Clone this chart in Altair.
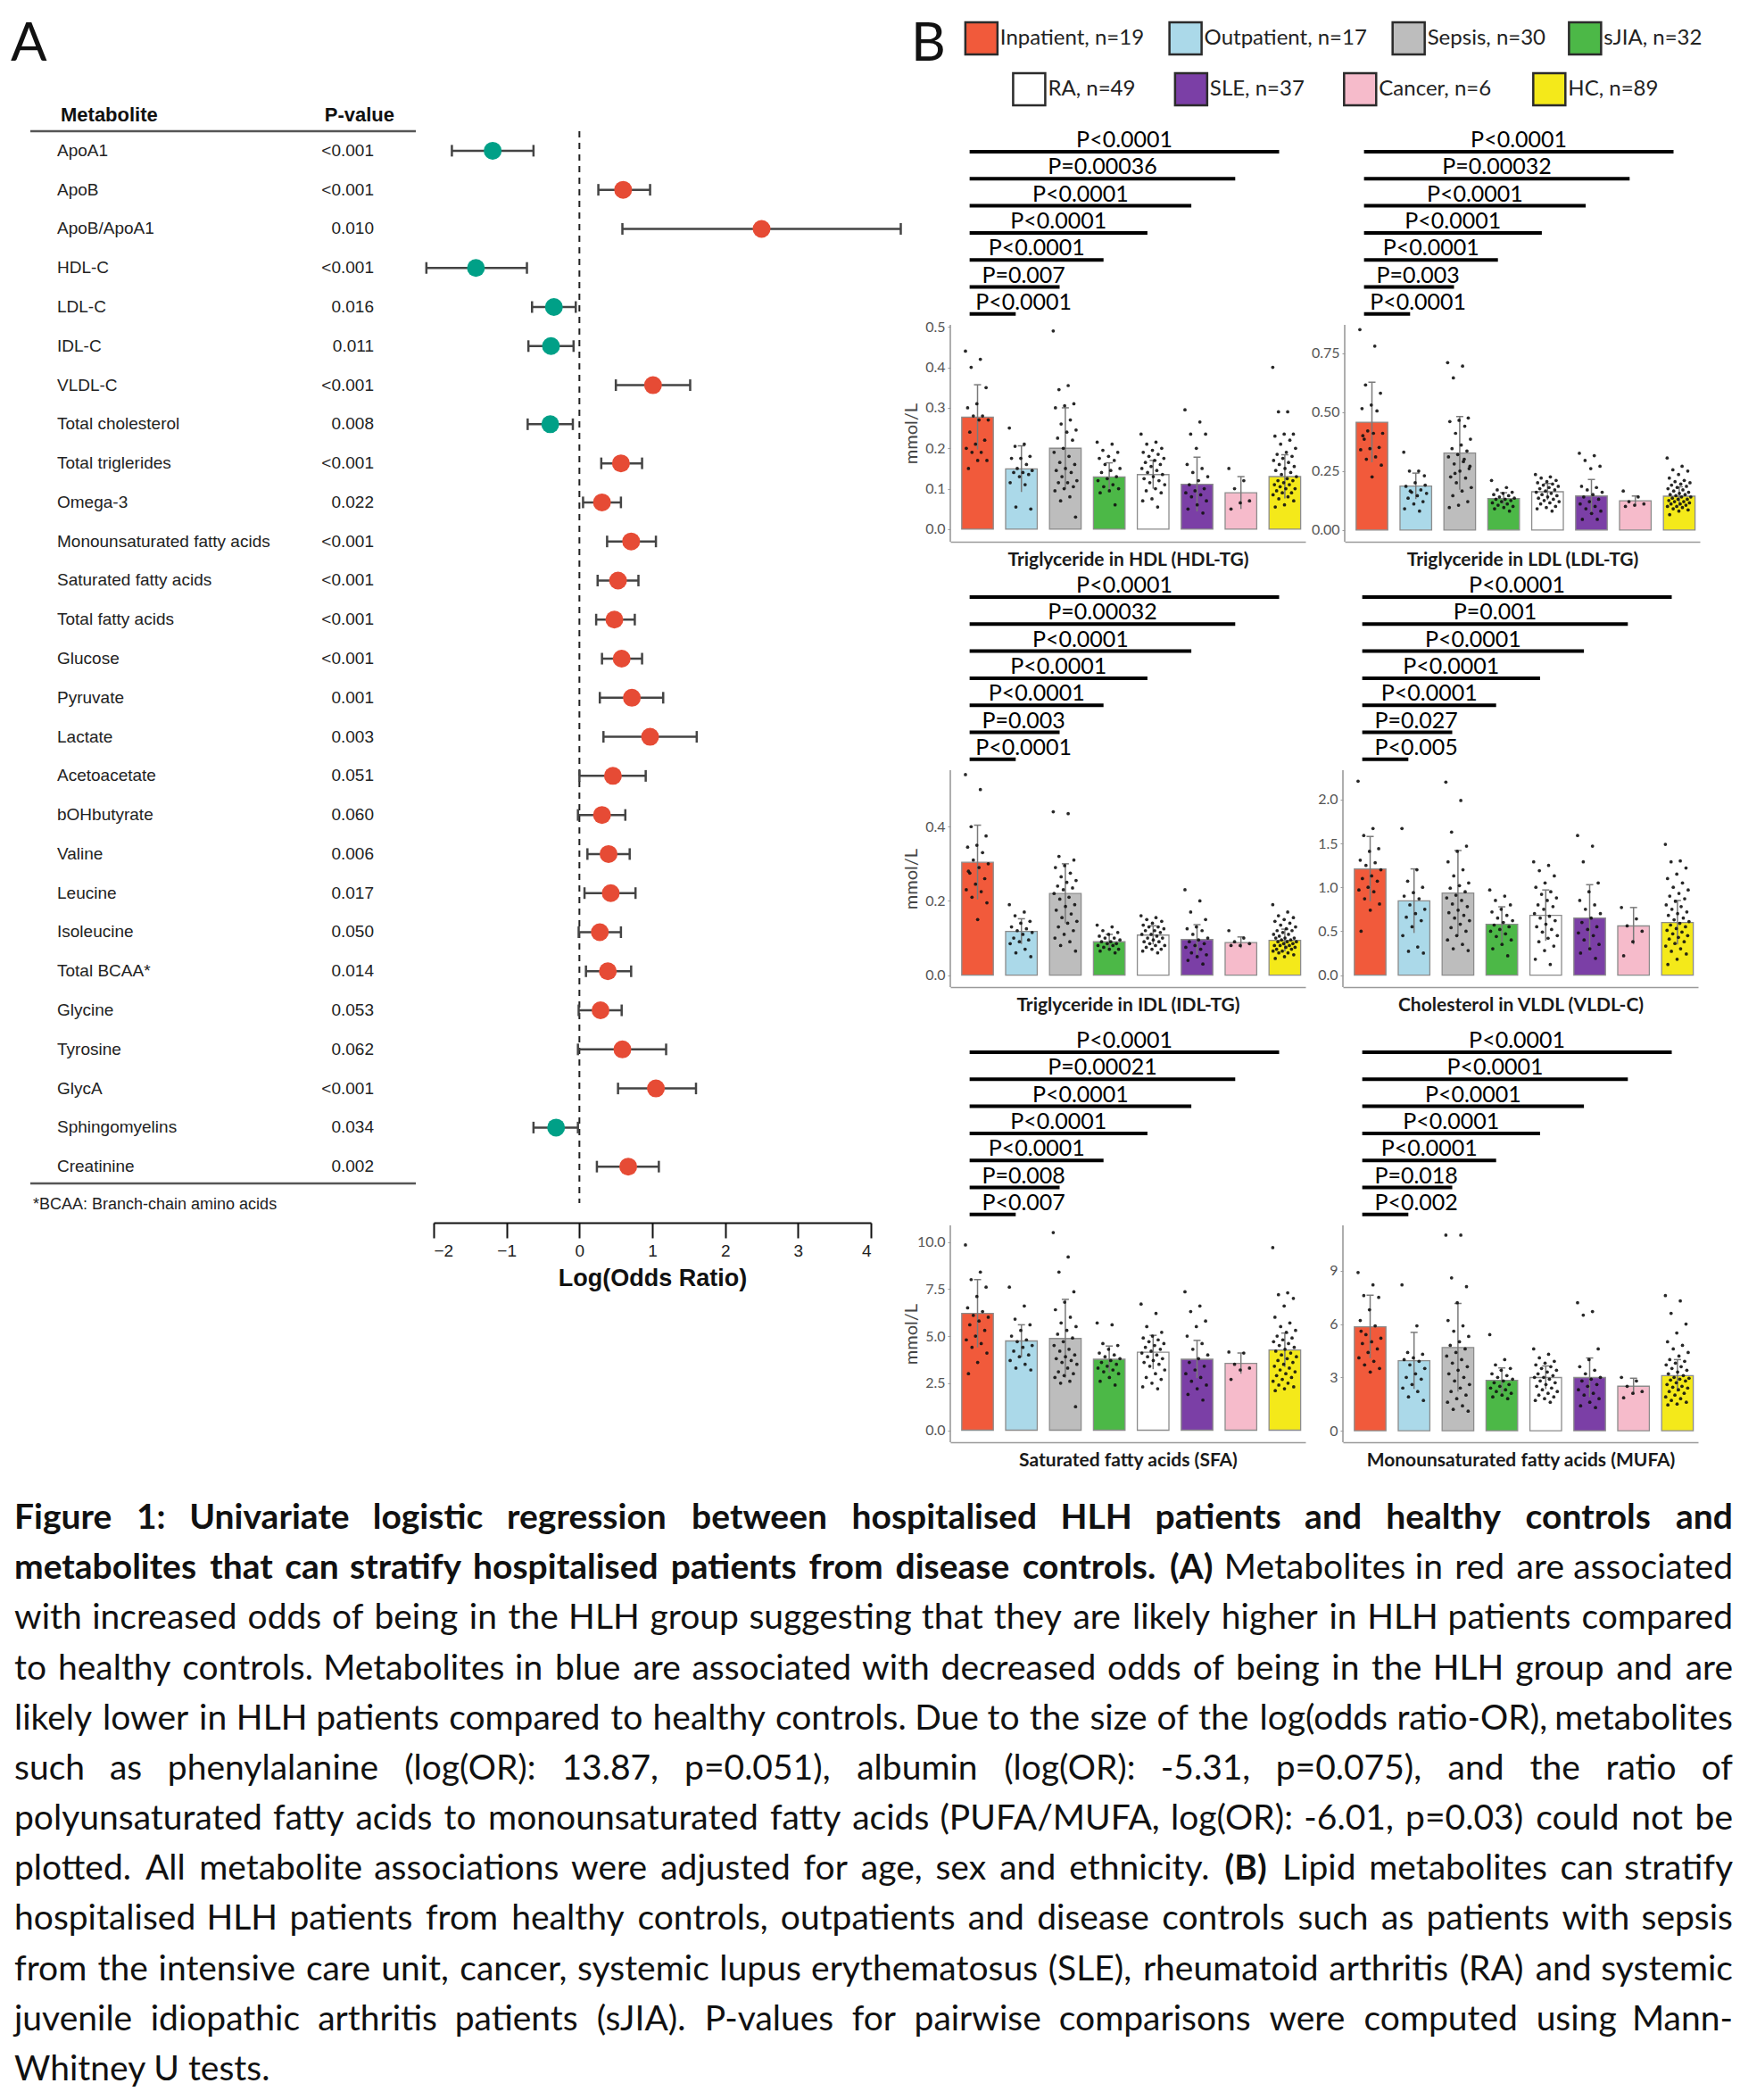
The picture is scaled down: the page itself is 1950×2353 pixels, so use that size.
import altair as alt
import pandas as pd

FONT_A = "Liberation Sans"
FONT_B = "Lato"

# ---------------- Panel A: forest plot ----------------
METABOLITES = ["ApoA1", "ApoB", "ApoB/ApoA1", "HDL-C", "LDL-C", "IDL-C", "VLDL-C",
               "Total cholesterol", "Total triglerides", "Omega-3",
               "Monounsaturated fatty acids", "Saturated fatty acids", "Total fatty acids",
               "Glucose", "Pyruvate", "Lactate", "Acetoacetate", "bOHbutyrate", "Valine",
               "Leucine", "Isoleucine", "Total BCAA*", "Glycine", "Tyrosine", "GlycA",
               "Sphingomyelins", "Creatinine"]
P_VALUES = ["<0.001", "<0.001", "0.010", "<0.001", "0.016", "0.011", "<0.001", "0.008",
            "<0.001", "0.022", "<0.001", "<0.001", "<0.001", "<0.001", "0.001", "0.003",
            "0.051", "0.060", "0.006", "0.017", "0.050", "0.014", "0.053", "0.062",
            "<0.001", "0.034", "0.002"]
LOG_OR = [-1.19, 0.60, 2.50, -1.42, -0.35, -0.39, 1.01, -0.40, 0.57, 0.31, 0.71, 0.53, 0.48,
          0.58, 0.72, 0.97, 0.46, 0.31, 0.40, 0.43, 0.28, 0.39, 0.29, 0.59, 1.05, -0.32, 0.67]
CI_LOW = [-1.75, 0.26, 0.59, -2.10, -0.65, -0.70, 0.50, -0.71, 0.30, 0.05, 0.38, 0.25, 0.23,
          0.31, 0.28, 0.33, 0.00, -0.02, 0.11, 0.07, -0.01, 0.09, -0.01, -0.02, 0.53, -0.63, 0.24]
CI_HIGH = [-0.63, 0.97, 4.41, -0.72, -0.05, -0.08, 1.52, -0.09, 0.86, 0.57, 1.05, 0.81, 0.76,
           0.86, 1.15, 1.61, 0.91, 0.63, 0.69, 0.77, 0.57, 0.71, 0.58, 1.19, 1.60, -0.02, 1.09]
X_TICKS = [-2, -1, 0, 1, 2, 3, 4]
RED, TEAL = "#E64B35", "#00A087"

# ---------------- Panel B: group bar charts ----------------
GROUPS = ["Inpatient", "Outpatient", "Sepsis", "sJIA", "RA", "SLE", "Cancer", "HC"]
GROUP_N = [19, 17, 30, 32, 49, 37, 6, 89]
GROUP_COLORS = ["#F15A3B", "#ABD9E9", "#BDBDBD", "#4CB847", "#FFFFFF", "#7B3FA6", "#F6BBCB", "#F4E91A"]

PANELS = ["HDL_TG", "LDL_TG", "IDL_TG", "VLDL_C", "SFA", "MUFA"]
PANEL_TITLES = {
    "HDL_TG": "Triglyceride in HDL (HDL-TG)",
    "LDL_TG": "Triglyceride in LDL (LDL-TG)",
    "IDL_TG": "Triglyceride in IDL (IDL-TG)",
    "VLDL_C": "Cholesterol in VLDL (VLDL-C)",
    "SFA": "Saturated fatty acids (SFA)",
    "MUFA": "Monounsaturated fatty acids (MUFA)",
}
MEANS = {
    "HDL_TG": [0.277, 0.149, 0.20, 0.129, 0.135, 0.111, 0.09, 0.13],
    "LDL_TG": [0.457, 0.186, 0.326, 0.133, 0.162, 0.144, 0.124, 0.143],
    "IDL_TG": [0.304, 0.118, 0.22, 0.09, 0.108, 0.096, 0.088, 0.094],
    "VLDL_C": [1.21, 0.845, 0.935, 0.578, 0.68, 0.65, 0.56, 0.60],
    "SFA": [6.2, 4.74, 4.87, 3.77, 4.14, 3.77, 3.55, 4.26],
    "MUFA": [5.85, 3.94, 4.68, 2.83, 2.99, 2.99, 2.5, 3.1],
}
SDS = {
    "HDL_TG": [0.08, 0.057, 0.10, 0.035, 0.035, 0.067, 0.04, 0.054],
    "LDL_TG": [0.17, 0.055, 0.155, 0.025, 0.035, 0.07, 0.02, 0.04],
    "IDL_TG": [0.10, 0.034, 0.08, 0.02, 0.025, 0.04, 0.015, 0.03],
    "VLDL_C": [0.37, 0.365, 0.485, 0.2, 0.29, 0.38, 0.21, 0.25],
    "SFA": [1.8, 0.86, 2.08, 0.7, 0.9, 1.0, 0.55, 0.9],
    "MUFA": [1.77, 1.59, 2.48, 0.7, 0.65, 1.1, 0.45, 0.9],
}
Y_LIMITS = {
    "HDL_TG": (-0.031, 0.505), "LDL_TG": (-0.05, 0.87), "IDL_TG": (-0.032, 0.552),
    "VLDL_C": (-0.137, 2.335), "SFA": (-0.64, 10.88), "MUFA": (-0.65, 11.55),
}
Y_TICKS = {
    "HDL_TG": [0, 0.1, 0.2, 0.3, 0.4, 0.5], "LDL_TG": [0, 0.25, 0.5, 0.75],
    "IDL_TG": [0, 0.2, 0.4], "VLDL_C": [0, 0.5, 1.0, 1.5, 2.0],
    "SFA": [0, 2.5, 5.0, 7.5, 10.0], "MUFA": [0, 3, 6, 9],
}
Y_FORMATS = {"HDL_TG": ".1f", "LDL_TG": ".2f", "IDL_TG": ".1f", "VLDL_C": ".1f", "SFA": ".1f", "MUFA": "d"}
# comparisons Inpatient vs Outpatient, Sepsis, sJIA, RA, SLE, Cancer, HC
P_LABELS = {
    "HDL_TG": ["P<0.0001", "P=0.007", "P<0.0001", "P<0.0001", "P<0.0001", "P=0.00036", "P<0.0001"],
    "LDL_TG": ["P<0.0001", "P=0.003", "P<0.0001", "P<0.0001", "P<0.0001", "P=0.00032", "P<0.0001"],
    "IDL_TG": ["P<0.0001", "P=0.003", "P<0.0001", "P<0.0001", "P<0.0001", "P=0.00032", "P<0.0001"],
    "VLDL_C": ["P<0.005", "P=0.027", "P<0.0001", "P<0.0001", "P<0.0001", "P=0.001", "P<0.0001"],
    "SFA": ["P<0.007", "P=0.008", "P<0.0001", "P<0.0001", "P<0.0001", "P=0.00021", "P<0.0001"],
    "MUFA": ["P<0.002", "P=0.018", "P<0.0001", "P<0.0001", "P<0.0001", "P<0.0001", "P<0.0001"],
}
POINTS = {
    "HDL_TG": [
        [0.44, 0.42, 0.40, 0.35, 0.31, 0.30, 0.28, 0.28, 0.27, 0.27, 0.24, 0.22, 0.21, 0.20, 0.19, 0.19, 0.17, 0.17, 0.15],
        [0.25, 0.21, 0.205, 0.18, 0.175, 0.175, 0.16, 0.15, 0.145, 0.14, 0.14, 0.135, 0.13, 0.115, 0.11, 0.055, 0.05],
        [0.49, 0.355, 0.345, 0.31, 0.305, 0.30, 0.27, 0.26, 0.245, 0.24, 0.225, 0.22, 0.20, 0.19, 0.18, 0.165, 0.16, 0.15, 0.145, 0.14, 0.13, 0.12, 0.115, 0.115, 0.105, 0.10, 0.095, 0.08, 0.07, 0.03],
        [0.215, 0.21, 0.195, 0.19, 0.18, 0.175, 0.17, 0.16, 0.15, 0.145, 0.14, 0.13, 0.125, 0.12, 0.11, 0.105, 0.10, 0.095, 0.09, 0.06],
        [0.235, 0.215, 0.21, 0.20, 0.195, 0.19, 0.185, 0.18, 0.175, 0.17, 0.165, 0.16, 0.155, 0.15, 0.145, 0.14, 0.135, 0.13, 0.125, 0.12, 0.115, 0.11, 0.10, 0.095, 0.09, 0.075, 0.07, 0.055],
        [0.295, 0.265, 0.235, 0.235, 0.20, 0.16, 0.15, 0.14, 0.13, 0.12, 0.11, 0.10, 0.095, 0.09, 0.085, 0.08, 0.07, 0.06, 0.05, 0.04],
        [0.15, 0.12, 0.10, 0.07, 0.065, 0.05],
        [0.40, 0.29, 0.29, 0.235, 0.235, 0.23, 0.22, 0.21, 0.20, 0.19, 0.185, 0.18, 0.175, 0.17, 0.165, 0.16, 0.155, 0.15, 0.145, 0.14, 0.135, 0.13, 0.125, 0.12, 0.12, 0.115, 0.11, 0.11, 0.105, 0.10, 0.10, 0.095, 0.09, 0.09, 0.085, 0.08, 0.075, 0.07, 0.06, 0.055],
    ],
    "LDL_TG": [
        [0.85, 0.78, 0.615, 0.58, 0.53, 0.515, 0.505, 0.42, 0.41, 0.41, 0.385, 0.35, 0.345, 0.34, 0.31, 0.30, 0.275, 0.225, 0.40],
        [0.33, 0.25, 0.25, 0.23, 0.20, 0.185, 0.17, 0.16, 0.155, 0.145, 0.135, 0.12, 0.11, 0.09, 0.08, 0.165, 0.19],
        [0.71, 0.695, 0.645, 0.475, 0.465, 0.46, 0.44, 0.41, 0.385, 0.36, 0.345, 0.335, 0.32, 0.31, 0.29, 0.28, 0.26, 0.25, 0.225, 0.22, 0.20, 0.18, 0.165, 0.145, 0.12, 0.105, 0.095, 0.30, 0.24, 0.27],
        [0.21, 0.18, 0.17, 0.16, 0.155, 0.15, 0.145, 0.14, 0.135, 0.13, 0.13, 0.125, 0.12, 0.115, 0.11, 0.105, 0.10, 0.095, 0.09, 0.08],
        [0.235, 0.225, 0.22, 0.21, 0.205, 0.20, 0.195, 0.19, 0.185, 0.18, 0.175, 0.17, 0.165, 0.16, 0.155, 0.15, 0.145, 0.14, 0.135, 0.13, 0.125, 0.12, 0.115, 0.11, 0.10, 0.095, 0.09, 0.08],
        [0.325, 0.315, 0.295, 0.27, 0.26, 0.185, 0.18, 0.17, 0.16, 0.15, 0.14, 0.13, 0.12, 0.11, 0.10, 0.09, 0.08, 0.07, 0.045, 0.045],
        [0.165, 0.14, 0.12, 0.11, 0.105, 0.10],
        [0.305, 0.27, 0.255, 0.25, 0.235, 0.22, 0.21, 0.205, 0.20, 0.195, 0.19, 0.185, 0.18, 0.175, 0.17, 0.165, 0.16, 0.155, 0.15, 0.15, 0.145, 0.14, 0.14, 0.135, 0.13, 0.13, 0.125, 0.12, 0.12, 0.115, 0.11, 0.11, 0.105, 0.10, 0.10, 0.095, 0.09, 0.085, 0.08, 0.065],
    ],
    "IDL_TG": [
        [0.54, 0.50, 0.40, 0.375, 0.35, 0.345, 0.33, 0.31, 0.30, 0.29, 0.275, 0.26, 0.245, 0.23, 0.225, 0.21, 0.195, 0.15, 0.28],
        [0.19, 0.17, 0.16, 0.145, 0.14, 0.13, 0.125, 0.12, 0.115, 0.11, 0.10, 0.095, 0.09, 0.085, 0.07, 0.06, 0.05],
        [0.44, 0.435, 0.32, 0.31, 0.295, 0.29, 0.275, 0.265, 0.255, 0.25, 0.24, 0.235, 0.23, 0.22, 0.21, 0.205, 0.19, 0.185, 0.175, 0.165, 0.155, 0.145, 0.14, 0.13, 0.12, 0.11, 0.10, 0.09, 0.08, 0.065],
        [0.135, 0.13, 0.12, 0.115, 0.11, 0.105, 0.10, 0.10, 0.095, 0.09, 0.09, 0.085, 0.085, 0.08, 0.08, 0.075, 0.07, 0.07, 0.065, 0.06],
        [0.16, 0.155, 0.15, 0.145, 0.14, 0.135, 0.13, 0.13, 0.125, 0.12, 0.12, 0.115, 0.11, 0.11, 0.105, 0.10, 0.10, 0.095, 0.09, 0.09, 0.085, 0.08, 0.08, 0.075, 0.07, 0.07, 0.065, 0.06],
        [0.23, 0.20, 0.17, 0.15, 0.13, 0.125, 0.12, 0.11, 0.10, 0.095, 0.09, 0.085, 0.08, 0.075, 0.07, 0.06, 0.055, 0.05, 0.04, 0.03],
        [0.12, 0.10, 0.09, 0.085, 0.08, 0.08],
        [0.19, 0.17, 0.16, 0.155, 0.15, 0.145, 0.14, 0.135, 0.13, 0.125, 0.12, 0.12, 0.115, 0.11, 0.11, 0.105, 0.10, 0.10, 0.10, 0.095, 0.095, 0.09, 0.09, 0.09, 0.085, 0.085, 0.08, 0.08, 0.08, 0.075, 0.075, 0.07, 0.07, 0.065, 0.065, 0.06, 0.06, 0.055, 0.05, 0.045],
    ],
    "VLDL_C": [
        [2.21, 1.67, 1.59, 1.44, 1.41, 1.31, 1.28, 1.25, 1.20, 1.13, 1.10, 1.07, 1.0, 0.97, 0.95, 0.87, 0.81, 0.74, 0.50],
        [1.67, 1.20, 1.07, 1.00, 0.94, 0.90, 0.87, 0.80, 0.75, 0.70, 0.66, 0.62, 0.55, 0.45, 0.32, 0.27, 0.25],
        [2.20, 1.99, 1.63, 1.47, 1.41, 1.29, 1.20, 1.13, 1.05, 1.02, 0.99, 0.95, 0.91, 0.88, 0.85, 0.81, 0.78, 0.74, 0.71, 0.68, 0.65, 0.62, 0.58, 0.54, 0.50, 0.45, 0.40, 0.35, 0.30, 0.28],
        [0.97, 0.90, 0.85, 0.80, 0.75, 0.72, 0.68, 0.65, 0.62, 0.60, 0.57, 0.55, 0.52, 0.50, 0.47, 0.44, 0.40, 0.35, 0.30, 0.22],
        [1.29, 1.25, 1.19, 1.13, 1.05, 1.00, 0.95, 0.92, 0.88, 0.85, 0.80, 0.78, 0.75, 0.70, 0.67, 0.65, 0.62, 0.58, 0.55, 0.52, 0.49, 0.45, 0.42, 0.38, 0.33, 0.28, 0.18, 0.12],
        [1.59, 1.47, 1.29, 1.05, 0.95, 0.85, 0.80, 0.75, 0.70, 0.65, 0.60, 0.55, 0.52, 0.48, 0.45, 0.40, 0.35, 0.30, 0.25, 0.19],
        [0.77, 0.64, 0.56, 0.50, 0.38, 0.22],
        [1.49, 1.30, 1.29, 1.22, 1.15, 1.10, 1.05, 1.00, 0.97, 0.93, 0.90, 0.87, 0.84, 0.80, 0.78, 0.75, 0.72, 0.70, 0.68, 0.65, 0.63, 0.61, 0.59, 0.57, 0.55, 0.53, 0.51, 0.49, 0.47, 0.45, 0.43, 0.41, 0.38, 0.36, 0.33, 0.30, 0.27, 0.24, 0.18, 0.12],
    ],
    "SFA": [
        [9.84, 8.4, 8.0, 7.6, 7.1, 6.5, 6.3, 6.1, 6.0, 5.8, 5.6, 5.3, 5.0, 4.8, 4.6, 4.4, 4.1, 3.6, 3.0],
        [7.6, 6.6, 5.9, 5.6, 5.3, 5.0, 4.8, 4.7, 4.5, 4.4, 4.2, 4.0, 3.9, 3.7, 3.5, 3.3, 3.2],
        [10.5, 9.2, 8.4, 7.35, 6.8, 6.4, 6.0, 5.7, 5.5, 5.3, 5.1, 4.9, 4.7, 4.5, 4.3, 4.2, 4.0, 3.9, 3.8, 3.7, 3.6, 3.5, 3.3, 3.1, 3.0, 2.9, 2.8, 2.6, 2.5, 1.25],
        [5.7, 5.6, 4.6, 4.5, 4.3, 4.1, 4.0, 3.9, 3.8, 3.7, 3.6, 3.5, 3.4, 3.3, 3.2, 3.1, 3.0, 2.8, 2.6, 2.4],
        [6.7, 6.2, 5.5, 5.2, 5.0, 4.9, 4.8, 4.7, 4.6, 4.5, 4.4, 4.3, 4.2, 4.1, 4.0, 3.9, 3.8, 3.7, 3.6, 3.5, 3.4, 3.2, 3.0, 2.8, 2.7, 2.5, 2.3, 2.2],
        [7.35, 6.6, 6.3, 5.8, 5.5, 5.0, 4.6, 4.3, 4.0, 3.8, 3.6, 3.4, 3.2, 3.0, 2.8, 2.6, 2.4, 2.2, 1.9, 1.6],
        [4.15, 4.1, 3.5, 3.3, 3.2, 2.7],
        [9.7, 7.3, 7.2, 7.0, 6.6, 6.0, 5.7, 5.5, 5.3, 5.2, 5.0, 4.9, 4.8, 4.7, 4.6, 4.5, 4.4, 4.3, 4.2, 4.1, 4.0, 3.9, 3.8, 3.7, 3.6, 3.5, 3.4, 3.3, 3.2, 3.1, 3.0, 2.9, 2.8, 2.7, 2.6, 2.5, 2.4, 2.3, 2.2, 2.1],
    ],
    "MUFA": [
        [8.9, 8.2, 7.6, 7.5, 6.8, 6.2, 5.9, 5.4, 5.2, 5.0, 4.9, 4.6, 4.4, 4.1, 3.9, 3.7, 3.5, 3.3, 5.6],
        [8.2, 5.9, 4.4, 4.3, 4.1, 4.0, 3.9, 3.7, 3.5, 3.2, 3.0, 2.9, 2.6, 2.4, 2.2, 1.9, 1.7],
        [11.0, 11.0, 8.6, 8.1, 7.2, 6.2, 5.9, 5.6, 5.3, 5.0, 4.8, 4.6, 4.4, 4.2, 4.0, 3.8, 3.6, 3.4, 3.2, 3.0, 2.8, 2.6, 2.4, 2.2, 2.0, 1.8, 1.6, 1.4, 1.2, 1.1],
        [5.4, 4.0, 3.7, 3.5, 3.4, 3.2, 3.1, 3.0, 2.9, 2.8, 2.7, 2.6, 2.5, 2.4, 2.3, 2.2, 2.1, 2.0, 1.9, 1.8],
        [4.6, 4.3, 4.1, 3.9, 3.8, 3.7, 3.6, 3.5, 3.4, 3.3, 3.2, 3.1, 3.0, 3.0, 2.9, 2.8, 2.7, 2.6, 2.5, 2.4, 2.3, 2.2, 2.1, 2.0, 1.9, 1.8, 1.7, 1.6],
        [7.2, 6.7, 6.5, 4.6, 4.0, 3.6, 3.4, 3.2, 3.0, 2.9, 2.8, 2.6, 2.5, 2.3, 2.1, 2.0, 1.8, 1.6, 1.4, 1.3],
        [3.0, 2.8, 2.5, 2.2, 2.1, 1.85],
        [7.6, 7.3, 6.6, 6.0, 5.5, 5.0, 4.8, 4.6, 4.4, 4.2, 4.0, 3.9, 3.8, 3.7, 3.6, 3.5, 3.4, 3.3, 3.2, 3.1, 3.0, 2.95, 2.9, 2.85, 2.8, 2.7, 2.6, 2.5, 2.45, 2.4, 2.3, 2.2, 2.1, 2.0, 1.9, 1.8, 1.7, 1.6, 1.5, 1.45],
    ],
}

CAPTION_LINES = [
    "Figure 1: Univariate logistic regression between hospitalised HLH patients and healthy controls and",
    "metabolites that can stratify hospitalised patients from disease controls. (A) Metabolites in red are associated",
    "with increased odds of being in the HLH group suggesting that they are likely higher in HLH patients compared",
    "to healthy controls. Metabolites in blue are associated with decreased odds of being in the HLH group and are",
    "likely lower in HLH patients compared to healthy controls. Due to the size of the log(odds ratio-OR), metabolites",
    "such as phenylalanine (log(OR): 13.87, p=0.051), albumin (log(OR): -5.31, p=0.075), and the ratio of",
    "polyunsaturated fatty acids to monounsaturated fatty acids (PUFA/MUFA, log(OR): -6.01, p=0.03) could not be",
    "plotted. All metabolite associations were adjusted for age, sex and ethnicity. (B) Lipid metabolites can stratify",
    "hospitalised HLH patients from healthy controls, outpatients and disease controls such as patients with sepsis",
    "from the intensive care unit, cancer, systemic lupus erythematosus (SLE), rheumatoid arthritis (RA) and systemic",
    "juvenile idiopathic arthritis patients (sJIA). P-values for pairwise comparisons were computed using Mann-",
    "Whitney U tests.",
]
BOLD_LINES = [0]
BOLD_PREFIX = {1: "metabolites that can stratify hospitalised patients from disease controls. (A)"}
BOLD_INLINE = {7: "(B)"}

# ---------- approximate glyph advance widths (em) of the sans font, for text layout ----------
_EM_LOWER = {"a": 0.49, "b": 0.56, "c": 0.46, "d": 0.56, "e": 0.52, "f": 0.32, "g": 0.51, "h": 0.56,
             "i": 0.24, "j": 0.24, "k": 0.50, "l": 0.24, "m": 0.83, "n": 0.56, "o": 0.56, "p": 0.56,
             "q": 0.56, "r": 0.37, "s": 0.42, "t": 0.35, "u": 0.56, "v": 0.50, "w": 0.77, "x": 0.49,
             "y": 0.50, "z": 0.45, " ": 0.19}
_EM_UPPER = {"I": 0.27, "J": 0.39, "L": 0.50, "M": 0.85, "W": 0.95, "E": 0.56, "F": 0.55, "P": 0.60,
             "S": 0.53, "A": 0.68, "O": 0.75, "U": 0.72, "H": 0.74, "C": 0.65, "R": 0.60}
_EM_PUNCT = {".": 0.22, ",": 0.22, ":": 0.22, ";": 0.22, "(": 0.30, ")": 0.30, "-": 0.34, "/": 0.38,
             "=": 0.58, "<": 0.58, ">": 0.58, "*": 0.40}


def text_em(s, bold=False):
    w = 0.0
    for ch in s:
        if ch in _EM_LOWER:
            w += _EM_LOWER[ch]
        elif ch in _EM_UPPER:
            w += _EM_UPPER[ch]
        elif ch.isupper():
            w += 0.66
        elif ch.isdigit():
            w += 0.58
        else:
            w += _EM_PUNCT.get(ch, 0.5)
    return w * (1.04 if bold else 1.0)


# ======================= build panel A =======================
N_ROWS = len(METABOLITES)
ROW_H = 43.78
A_HEAD = 104                      # space above the table rows (header + legend row height)
A_W = 490
A_H = round(ROW_H * N_ROWS + A_HEAD)
ROW_LO = -A_HEAD / ROW_H - 0.5
ROW_HI = ROW_LO + A_H / ROW_H

fdf = pd.DataFrame({"metabolite": METABOLITES, "row": list(range(N_ROWS)), "p": P_VALUES,
                    "est": LOG_OR, "lo": CI_LOW, "hi": CI_HIGH})
fdf["dir"] = ["Increased" if v > 0 else "Decreased" for v in LOG_OR]

x_or = alt.Scale(domain=[min(X_TICKS), max(X_TICKS)], nice=False, zero=False)
x_or_axis = alt.Axis(values=X_TICKS, format="d", grid=False, domainColor="#111", domainWidth=2,
                     tickColor="#111", tickWidth=2, tickSize=17, labelFont=FONT_A, labelFontSize=19,
                     labelColor="#222", labelPadding=5, offset=41, title="Log(Odds Ratio)",
                     titleFont=FONT_A, titleFontSize=27, titleFontWeight="bold", titleColor="#111",
                     titlePadding=8)


def xq(field):
    return alt.X(f"{field}:Q", scale=x_or, axis=x_or_axis)


y_row = alt.Y("row:Q", scale=alt.Scale(domain=[ROW_LO, ROW_HI], reverse=True, nice=False, zero=False),
              axis=None)
base = alt.Chart(fdf)
one = pd.DataFrame({"k": [0]})
zero_df = pd.DataFrame({"zero": [0]})

zero_line = alt.Chart(zero_df).mark_rule(strokeDash=[7, 6], strokeWidth=2, color="#222").encode(
    x=xq("zero"), y=alt.value(A_HEAD), y2=alt.value(A_H + 19))
ci = base.mark_rule(color="#444", strokeWidth=2.5).encode(x=xq("lo"), x2="hi:Q", y=y_row)
cap_lo = base.mark_tick(orient="vertical", color="#444", thickness=2.5, size=13, opacity=1).encode(
    x=xq("lo"), y=y_row)
cap_hi = base.mark_tick(orient="vertical", color="#444", thickness=2.5, size=13, opacity=1).encode(
    x=xq("hi"), y=y_row)
dots_a = base.mark_circle(size=400, opacity=1).encode(
    x=xq("est"), y=y_row,
    color=alt.Color("dir:N", scale=alt.Scale(domain=["Increased", "Decreased"], range=[RED, TEAL]), legend=None))
names = base.mark_text(align="left", baseline="middle", font=FONT_A, fontSize=19, color="#222").encode(
    x=alt.value(-422), y=y_row, text="metabolite:N")
pvals = base.mark_text(align="right", baseline="middle", font=FONT_A, fontSize=19, color="#222").encode(
    x=alt.value(-67), y=y_row, text="p:N")
hdr1 = alt.Chart(one).mark_text(text="Metabolite", align="left", baseline="middle", font=FONT_A, fontSize=22,
                                fontWeight="bold", color="#111").encode(x=alt.value(-418), y=alt.value(A_HEAD - 18))
hdr2 = alt.Chart(one).mark_text(text="P-value", align="right", baseline="middle", font=FONT_A, fontSize=22,
                                fontWeight="bold", color="#111").encode(x=alt.value(-44), y=alt.value(A_HEAD - 18))
line_top = alt.Chart(one).mark_rule(color="#555", strokeWidth=2.5).encode(
    x=alt.value(-452), x2=alt.value(-20), y=alt.value(A_HEAD))
line_bot = alt.Chart(one).mark_rule(color="#555", strokeWidth=2.5).encode(
    x=alt.value(-452), x2=alt.value(-20), y=alt.value(A_H - 3))
foot = alt.Chart(one).mark_text(text="*BCAA: Branch-chain amino acids", align="left", baseline="middle",
                                font=FONT_A, fontSize=18, color="#222").encode(x=alt.value(-449), y=alt.value(A_H + 21))
LETTER_Y = -22
letter_a = alt.Chart(one).mark_text(text="A", align="left", baseline="top", font=FONT_B, fontSize=60,
                                    color="#111").encode(x=alt.value(-474), y=alt.value(LETTER_Y))

panel_a = alt.layer(zero_line, ci, cap_lo, cap_hi, dots_a, names, pvals, hdr1, hdr2,
                    line_top, line_bot, foot, letter_a).properties(width=A_W, height=A_H)

# ======================= build panel B =======================
color_sc = alt.Scale(domain=GROUPS, range=GROUP_COLORS)
PANEL_W, PANEL_H, BAR_AREA_H = 398, 452, 243
X_LO, X_STEP = -0.62, 49.2
X_HI = X_LO + PANEL_W / X_STEP
BAR_HALF = 0.36
JITTER = 0.55
BR_TOP, BR_STEP = 15, 30.3
BR_START, BR_END_GAP = -0.18, 0.13


def make_panel(key, first_col):
    lo_lim, hi_lim = Y_LIMITS[key]
    y_top = lo_lim + (hi_lim - lo_lim) * PANEL_H / BAR_AREA_H
    ysc = alt.Scale(domain=[lo_lim, y_top], nice=False, zero=False)
    xsc = alt.Scale(domain=[X_LO, X_HI], nice=False, zero=False)
    xax = alt.Axis(labels=False, ticks=False, grid=False, domainColor="#9a9a9a", domainWidth=1.6,
                   title=PANEL_TITLES[key], titleFont=FONT_B, titleFontSize=21, titleFontWeight="bold",
                   titleColor="#1a1a1a", titlePadding=9)
    ykw = dict(values=Y_TICKS[key], format=Y_FORMATS[key], domain=False, grid=False, tickSize=3,
               tickColor="#9a9a9a", labelFont=FONT_B, labelFontSize=16, labelColor="#555", labelPadding=3)
    if first_col:
        ykw.update(title="mmol/L", titleFont=FONT_B, titleFontSize=20, titleFontWeight="normal",
                   titleColor="#444", titlePadding=4, titleY=PANEL_H - BAR_AREA_H / 2,
                   minExtent=30, maxExtent=30)
    else:
        ykw.update(title="", minExtent=36, maxExtent=36)
    yax = alt.Axis(**ykw)

    def xf(f):
        return alt.X(f"{f}:Q", scale=xsc, axis=xax)

    def yf(f):
        return alt.Y(f"{f}:Q", scale=ysc, axis=yax)

    bdf = pd.DataFrame({"group": GROUPS, "gi": list(range(len(GROUPS))), "mean": MEANS[key], "sd": SDS[key]})
    bars_base = alt.Chart(bdf).transform_calculate(
        x0=f"datum.gi - {BAR_HALF}", x1=f"datum.gi + {BAR_HALF}", base="0",
        lo="datum.mean - datum.sd", hi="datum.mean + datum.sd")
    bars = bars_base.mark_bar(stroke="#8c8c8c", strokeWidth=1.3).encode(
        x=xf("x0"), x2="x1:Q", y=yf("mean"), y2="base:Q",
        fill=alt.Fill("group:N", scale=color_sc, legend=None))
    err = bars_base.mark_rule(color="#7a7a7a", strokeWidth=1.5).encode(x=xf("gi"), y=yf("lo"), y2="hi:Q")
    cap_t = bars_base.mark_tick(orient="horizontal", size=8, thickness=1.5, color="#7a7a7a", opacity=1).encode(
        x=xf("gi"), y=yf("hi"))

    rows = []
    for gi, vals in enumerate(POINTS[key]):
        for k, v in enumerate(vals):
            rows.append({"group": GROUPS[gi], "gi": gi, "k": k, "v": v})
    pdf = pd.DataFrame(rows)
    pts = alt.Chart(pdf).transform_calculate(
        xj=f"datum.gi + ((datum.k * 0.618034) % 1 - 0.5) * {JITTER}").mark_circle(
        size=14, color="#111", opacity=0.9).encode(x=xf("xj"), y=yf("v"))

    adf = pd.DataFrame({"ax": [X_LO], "y0": [lo_lim], "y1": [hi_lim]})
    yline = alt.Chart(adf).mark_rule(color="#9a9a9a", strokeWidth=1.6).encode(x=xf("ax"), y=yf("y0"), y2="y1:Q")

    bar_layer = alt.layer(yline, bars, err, cap_t, pts)

    d_hi = len(GROUPS) - 1 + BR_TOP / BR_STEP
    d_lo = d_hi - PANEL_H / BR_STEP
    lvl_sc = alt.Scale(domain=[d_lo, d_hi], nice=False, zero=False)
    brdf = pd.DataFrame({"lvl": list(range(1, len(GROUPS))), "label": P_LABELS[key]})
    br_base = alt.Chart(brdf).transform_calculate(
        bx0=f"{BR_START}", bx1=f"datum.lvl - {BR_END_GAP}",
        tx=f"max(({BR_START} + datum.lvl - {BR_END_GAP}) / 2, 1.05)")
    br_lines = br_base.mark_rule(color="#000", strokeWidth=4).encode(
        x=xf("bx0"), x2="bx1:Q", y=alt.Y("lvl:Q", scale=lvl_sc, axis=None))
    br_text = br_base.mark_text(align="center", baseline="alphabetic", dy=-5, font=FONT_B, fontSize=25,
                                color="#000").encode(
        x=xf("tx"), y=alt.Y("lvl:Q", scale=lvl_sc, axis=None), text="label:N")
    br_layer = alt.layer(br_lines, br_text)

    return alt.layer(bar_layer, br_layer).resolve_scale(y="independent").properties(width=PANEL_W, height=PANEL_H)


panels = [make_panel(k, i % 2 == 0) for i, k in enumerate(PANELS)]
grid = alt.vconcat(
    alt.vconcat(
        alt.hconcat(panels[0], panels[1], spacing=6),
        alt.hconcat(panels[2], panels[3], spacing=6),
        spacing=6),
    alt.hconcat(panels[4], panels[5], spacing=6),
    spacing=17,
)

# legend (two rows of four entries, laid out one after another)
LEG_W, LEG_H = 727, 57
LEG_FONT, LEG_SWATCH, LEG_TEXT_GAP = 24, 36, 3
LEG_TEXT_SCALE = 1.07
LEG_ROW_CENTER = {0: 432, 1: 434}
LEG_ROW_GAP = {0: 20, 1: 40}
leg_rows = []
for r in (0, 1):
    items = list(range(r * 4, r * 4 + 4))
    labels = [f"{GROUPS[i]}, n={GROUP_N[i]}" for i in items]
    widths = [LEG_SWATCH + LEG_TEXT_GAP + text_em(t) * LEG_FONT * LEG_TEXT_SCALE for t in labels]
    left = LEG_ROW_CENTER[r] - (sum(widths) + LEG_ROW_GAP[r] * (len(items) - 1)) / 2
    for i, t, w in zip(items, labels, widths):
        leg_rows.append({"group": GROUPS[i], "label": t, "row": r, "xc": left + LEG_SWATCH / 2})
        left += w + LEG_ROW_GAP[r]
ldf = pd.DataFrame(leg_rows)
leg_x = alt.X("xc:Q", scale=alt.Scale(domain=[0, LEG_W], nice=False, zero=False), axis=None)
leg_y = alt.Y("row:Q", scale=alt.Scale(domain=[0, 1], reverse=True, nice=False, zero=False), axis=None)
leg_sq = alt.Chart(ldf).mark_square(size=LEG_SWATCH ** 2, stroke="#2b2b2b", strokeWidth=2.5, opacity=1).encode(
    x=leg_x, y=leg_y, fill=alt.Fill("group:N", scale=color_sc, legend=None))
leg_tx = alt.Chart(ldf).mark_text(align="left", baseline="middle", dx=LEG_SWATCH / 2 + LEG_TEXT_GAP,
                                  font=FONT_B, fontSize=LEG_FONT, color="#222").encode(
    x=leg_x, y=leg_y, text="label:N")
letter_b = alt.Chart(one).mark_text(text="B", align="left", baseline="top", font=FONT_B, fontSize=60,
                                    color="#111").encode(x=alt.value(-44), y=alt.value(LETTER_Y))
legend = alt.layer(leg_sq, leg_tx, letter_b).properties(width=LEG_W, height=LEG_H)

b_col = alt.vconcat(legend, grid, spacing=21)

# ======================= caption (justified, word by word) =======================
CAP_X0 = -470          # caption starts left of the forest-plot origin it is aligned to
CAP_PLOT_W = 1456
CAP_FULL_W = CAP_PLOT_W - CAP_X0
CAP_LINE = 56.2
CAP_MAX_FONT = 39


def line_words(li, line):
    words = line.split()
    bold = [li in BOLD_LINES] * len(words)
    if li in BOLD_PREFIX:
        nb = len(BOLD_PREFIX[li].split())
        bold = [True] * nb + [False] * (len(words) - nb)
    if li in BOLD_INLINE:
        bold = [w == BOLD_INLINE[li] or b for w, b in zip(words, bold)]
    return words, bold


# font size: as large as allowed while every justified line still fits
fit = CAP_MAX_FONT
for li, line in enumerate(CAPTION_LINES[:-1]):
    words, bold = line_words(li, line)
    em = sum(text_em(w, b) for w, b in zip(words, bold)) + 0.30 * (len(words) - 1)
    fit = min(fit, CAP_FULL_W / em)
CAP_FONT = round(fit, 1)

segs = []
last = len(CAPTION_LINES) - 1
for li, line in enumerate(CAPTION_LINES):
    words, bold = line_words(li, line)
    if li == last:
        # the closing line is not justified: one left-aligned run of text
        segs.append((li, line, "left", "bold" if bold[0] else "normal", CAP_X0))
        continue
    wpx = [text_em(w, b) * CAP_FONT for w, b in zip(words, bold)]
    gap = (CAP_FULL_W - sum(wpx)) / (len(words) - 1)
    x = CAP_X0
    for wi, (w, b, wp) in enumerate(zip(words, bold, wpx)):
        wt = "bold" if b else "normal"
        if wi == 0:
            segs.append((li, w, "left", wt, CAP_X0))
        elif wi == len(words) - 1:
            segs.append((li, w, "right", wt, CAP_PLOT_W))
        else:
            segs.append((li, w, "center", wt, x + wp / 2))
        x += wp + gap
cdf = pd.DataFrame(segs, columns=["line", "text", "align", "weight", "xp"])

n_lines = len(CAPTION_LINES) - 1
cap_y = alt.Y("line:Q", scale=alt.Scale(domain=[0, n_lines], reverse=True, nice=False, zero=False), axis=None)
cap_x = alt.X("xp:Q", scale=alt.Scale(domain=[0, CAP_PLOT_W], nice=False, zero=False), axis=None)
cap_layers = []
for align in ["left", "center", "right"]:
    for weight in ["normal", "bold"]:
        cap_layers.append(
            alt.Chart(cdf).transform_filter(
                f"datum.align == '{align}' && datum.weight == '{weight}'").mark_text(
                align=align, baseline="middle", font=FONT_B, fontSize=CAP_FONT, fontWeight=weight,
                color="#111").encode(x=cap_x, y=cap_y, text="text:N"))
caption = alt.layer(*cap_layers).properties(width=CAP_PLOT_W, height=round(CAP_LINE * n_lines))

# ======================= assemble =======================
top = alt.hconcat(panel_a, b_col, spacing=0)
chart = alt.vconcat(top, caption, spacing=36).resolve_scale(color="independent").properties(
    padding={"top": 12, "left": 4, "right": 0, "bottom": 0}, background="white").configure_view(strokeWidth=0)

chart.save("out.html", embed_options={"renderer": "svg", "actions": False})
